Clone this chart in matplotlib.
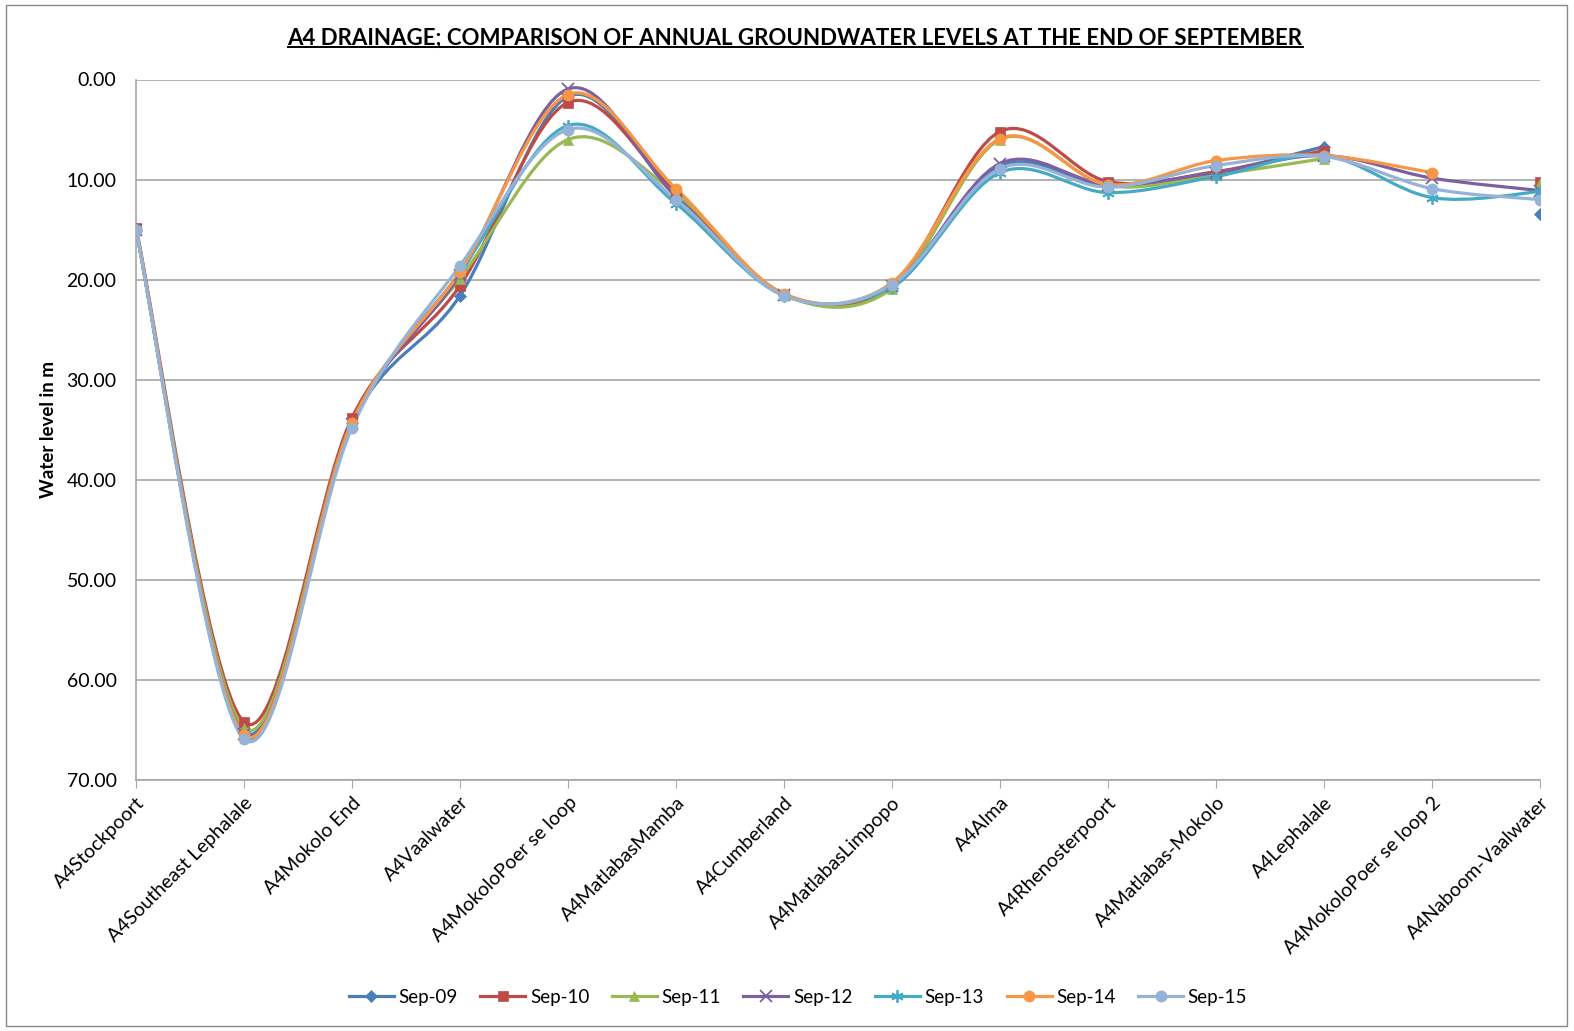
import numpy as np
import matplotlib.pyplot as plt
from matplotlib.path import Path
from matplotlib.patches import PathPatch, Rectangle
from matplotlib.lines import Line2D

plt.rcParams['font.family'] = ['Lato', 'DejaVu Sans']

sites = ['A4Stockpoort', 'A4Southeast Lephalale', 'A4Mokolo End', 'A4Vaalwater',
         'A4MokoloPoer se loop', 'A4MatlabasMamba', 'A4Cumberland', 'A4MatlabasLimpopo',
         'A4Alma', 'A4Rhenosterpoort', 'A4Matlabas-Mokolo', 'A4Lephalale',
         'A4MokoloPoer se loop 2', 'A4Naboom-Vaalwater']

nan = np.nan
sep09 = [15.0, 65.2, 34.3, 21.6, 1.7, 11.6, 21.5, 20.8, 8.7, 10.6, 9.3, 6.7, nan, 13.4]
sep10 = [14.8, 64.2, 33.8, 20.6, 2.3, 11.3, 21.5, 20.6, 5.2, 10.2, 9.2, 7.1, nan, 10.2]
sep11 = [15.0, 64.8, 34.2, 19.9, 6.0, 11.4, 21.5, 20.9, 6.0, 10.6, 9.5, 7.9, nan, 10.3]
sep12 = [15.0, 65.4, 34.4, 19.5, 0.95, 11.7, 21.5, 20.6, 8.4, 10.5, 9.3, 7.6, 9.85, 11.1]
sep13 = [15.0, 65.6, 34.5, 19.3, 4.6, 12.4, 21.6, 20.7, 9.3, 11.3, 9.7, 7.6, 11.8, 11.2]
sep14 = [15.0, 65.5, 34.3, 19.2, 1.5, 10.9, 21.4, 20.3, 5.9, 10.5, 8.1, 7.6, 9.3, nan]
sep15 = [15.0, 65.9, 34.8, 18.6, 5.0, 12.0, 21.6, 20.5, 8.9, 10.75, 8.6, 7.7, 10.9, 12.0]

series = [('Sep-09', sep09, '#4A7EBB', 'D', 6),
          ('Sep-10', sep10, '#BE4B48', 's', 7),
          ('Sep-11', sep11, '#98B954', '^', 7.5),
          ('Sep-12', sep12, '#7D60A0', 'x', 8),
          ('Sep-13', sep13, '#46AAC5', (6, 2, 0), 9),
          ('Sep-14', sep14, '#F79646', 'o', 8),
          ('Sep-15', sep15, '#95B3D7', 'o', 8)]


def smooth_path(xs, ys):
    # Excel-like smoothed line: cubic Bezier through points (Catmull-Rom tangents)
    pts = np.column_stack([xs, ys])
    n = len(pts)
    verts = [pts[0]]
    codes = [Path.MOVETO]
    for i in range(n - 1):
        p0 = pts[i - 1] if i > 0 else pts[i]
        p1 = pts[i]
        p2 = pts[i + 1]
        p3 = pts[i + 2] if i + 2 < n else pts[i + 1]
        c1 = p1 + (p2 - p0) / 6.0
        c2 = p2 - (p3 - p1) / 6.0
        verts += [c1, c2, p2]
        codes += [Path.CURVE4] * 3
    return Path(verts, codes)


fig = plt.figure(figsize=(15.74, 10.31), dpi=100)
fig.patches.append(Rectangle((6 / 1574, 5 / 1031), 1561 / 1574, 1021 / 1031,
                             transform=fig.transFigure, fill=False,
                             edgecolor='#868686', lw=1.0))
ax = fig.add_axes([136 / 1574, 1 - 780 / 1031, 1404 / 1574, 700.5 / 1031])

x = np.arange(len(sites))
handles = []
for name, vals, col, mk, ms in series:
    v = np.array(vals, dtype=float)
    ok = ~np.isnan(v)
    # split into runs without gaps
    runs = []
    cur = []
    for i in range(len(v)):
        if ok[i]:
            cur.append(i)
        else:
            if cur:
                runs.append(cur)
            cur = []
    if cur:
        runs.append(cur)
    for r in runs:
        if len(r) > 1:
            ax.add_patch(PathPatch(smooth_path(x[r], v[r]), fill=False,
                                   edgecolor=col, lw=2.3, capstyle='round',
                                   joinstyle='round', zorder=3))
    mew = 1.3 if mk in ('x', (6, 2, 0)) else 0.5
    ax.plot(x[ok], v[ok], linestyle='none', marker=mk, ms=ms, color=col,
            mec=col, mew=mew, zorder=4)
    handles.append(Line2D([], [], color=col, lw=2.3, marker=mk, ms=ms,
                          mec=col, mew=mew, label=name))

ax.set_xlim(0, len(sites) - 1)
ax.set_ylim(70, 0)
ax.set_yticks(np.arange(0, 71, 10))
ax.set_yticklabels(['%.2f' % t for t in np.arange(0, 71, 10)], fontsize=14)
ax.yaxis.grid(True, color='#A6A6A6', lw=1.2)
ax.set_axisbelow(True)
ax.tick_params(axis='y', length=0, pad=14)
ax.set_xticks(x)
ax.set_xticklabels(sites, rotation=45, ha='right', va='top',
                   rotation_mode='anchor', fontsize=14)
ax.tick_params(axis='x', length=6, color='#A6A6A6', direction='out', pad=4)
for s in ['top', 'right']:
    ax.spines[s].set_visible(False)
for s in ['left', 'bottom']:
    ax.spines[s].set_color('#A6A6A6')
    ax.spines[s].set_linewidth(1.2)
ax.set_ylabel('Water level in m', fontsize=13.5, fontweight='bold', labelpad=7)

title = fig.text(795 / 1574, 1 - 38 / 1031,
                 'A4 DRAINAGE; COMPARISON OF ANNUAL GROUNDWATER LEVELS AT THE END OF SEPTEMBER',
                 ha='center', va='center', fontsize=16, fontweight='bold')
fig.canvas.draw()
bb = title.get_window_extent().transformed(fig.transFigure.inverted())
fig.add_artist(Line2D([bb.x0, bb.x1], [bb.y0 + 0.001, bb.y0 + 0.001],
                      transform=fig.transFigure, color='black', lw=1.4))

fig.legend(handles=handles, loc='center', bbox_to_anchor=(798 / 1574, 1 - 997 / 1031),
           ncol=7, frameon=False, fontsize=13.5, handlelength=2.4,
           columnspacing=1.2, handletextpad=0.25)

fig.savefig('out.png', dpi=100)
